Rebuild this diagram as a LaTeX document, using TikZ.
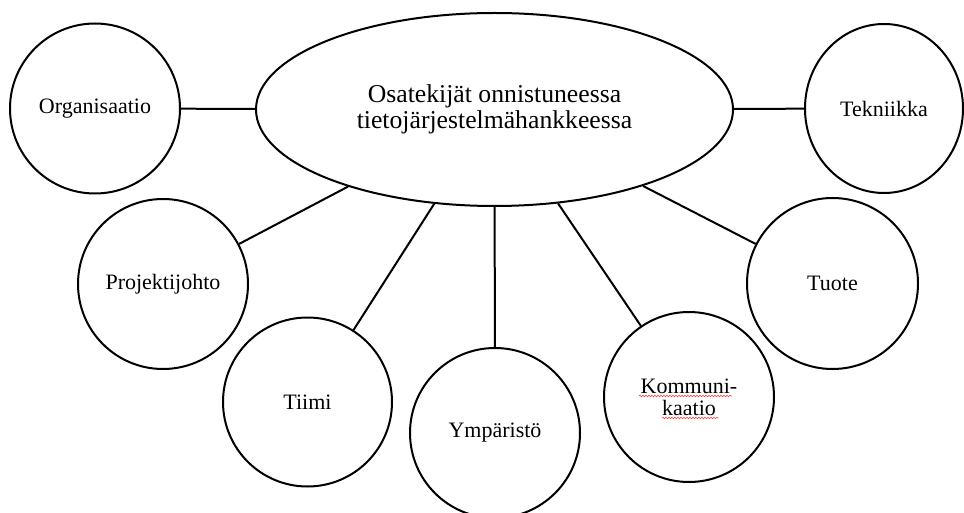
\documentclass[tikz,border=0pt]{standalone}
\usepackage{fontspec}
\setmainfont{Liberation Serif}
\usetikzlibrary{shapes.geometric,decorations.pathmorphing}
\begin{document}
\begin{tikzpicture}[x=1pt,y=-1pt,
  bubble/.style={circle,draw=black,line width=2pt,inner sep=0pt,minimum size=170pt,
    font=\fontsize{22}{22}\selectfont,align=center,text=black},
  hub/.style={ellipse,draw=black,line width=2pt,inner sep=0pt,minimum width=477pt,
    minimum height=193pt,font=\fontsize{25.7}{26}\selectfont,align=center,text=black},
  link/.style={draw=black,line width=2pt},
  squig/.style={draw=red!75!white,line width=0.6pt,decorate,
    decoration={snake,segment length=3pt,amplitude=0.8pt}}]
\useasboundingbox[fill=white] (0,0) rectangle (964,513);

\node[hub] (hub) at (494.5,109.5) {Osatekijät onnistuneessa\\tietojärjestelmähankkeessa};

\node[bubble] (org) at (95,108.5) {Organisaatio};
\node[bubble,ellipse,minimum width=158pt,minimum height=169pt] (tek) at (884,108.5) {Tekniikka};
\node[bubble] (proj) at (163,284) {Projektijohto};
\node[bubble,minimum size=169pt] (tiimi) at (307.5,402) {Tiimi};
\node[bubble] (ymp) at (495,433) {Ympäristö};
\node[bubble] (komm) at (689,397) {Kommuni-\\kaatio};
\node[bubble,minimum size=171pt] (tuote) at (832.5,283.5) {Tuote};

\draw[link] (hub) -- (org);
\draw[link] (hub) -- (tek);
\draw[link] (hub) -- (proj);
\draw[link] (hub) -- (tiimi);
\draw[link] (hub) -- (ymp);
\draw[link] (hub) -- (komm);
\draw[link] (hub) -- (tuote);

\coordinate (sqa) at (639,396);
\coordinate (sqb) at (732,396);
\coordinate (sqc) at (662,418);
\coordinate (sqd) at (718,418);
\draw[squig] (sqa) -- (sqb);
\draw[squig] (sqc) -- (sqd);
\end{tikzpicture}
\end{document}
